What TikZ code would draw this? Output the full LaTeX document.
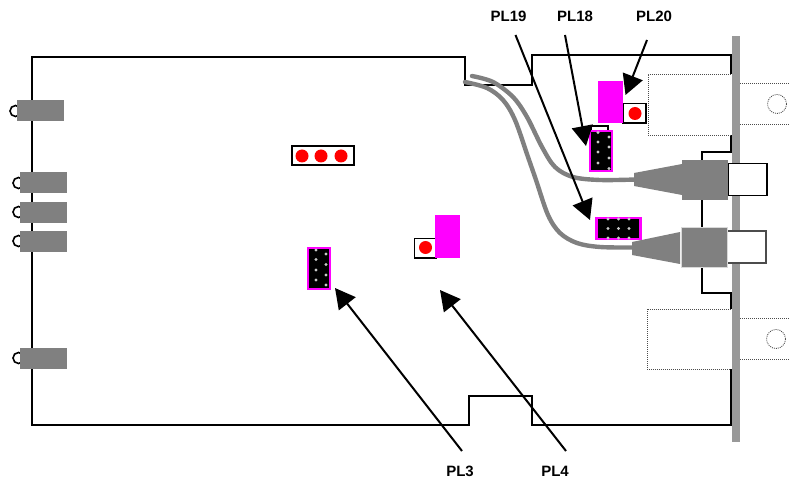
\documentclass[tikz,border=0pt]{standalone}
\usepackage{fontspec}
\setmainfont{Liberation Sans}
\usetikzlibrary{arrows.meta}
\definecolor{mag}{HTML}{FF00FF}
\definecolor{gr}{HTML}{808080}
\definecolor{panel}{HTML}{999999}
\tikzset{
  box/.style={rectangle,anchor=north west,inner sep=0pt,outer sep=0pt},
  board/.style={draw=black,line width=2pt,line join=miter},
  dot/.style={draw=black!70,line width=0.8pt,dash pattern=on 1pt off 1pt},
  grey/.style={box,fill=gr},
  magbox/.style={box,fill=mag},
  hdr/.style={box,fill=black,draw=mag,line width=2.2pt},
  socket/.style={box,fill=white,draw=black,line width=1.6pt},
  red dot/.style={circle,fill=red,inner sep=0pt,minimum size=13pt},
  pin/.style={circle,fill=black!22,inner sep=0pt,minimum size=3.4pt},
  cable/.style={draw=gr,line width=4.4pt,line cap=round,line join=round},
  call/.style={draw=black,line width=2pt,-{Triangle[length=20pt,width=21pt]}},
  lab/.style={font=\bfseries\fontsize{15}{17}\selectfont,inner sep=0pt},
  loop/.style={draw=black,line width=1.6pt,fill=white},
  hole/.style={draw=black!70,line width=0.8pt,dash pattern=on 1pt off 1pt}
}
\begin{document}
\begin{tikzpicture}[x=1pt,y=-1pt]
\useasboundingbox (0,0) rectangle (789,478);
% board outline
\draw[board] (731,74) -- (731,55) -- (532,55) -- (532,85.5) -- (465,85.5) -- (465,57) -- (32,57) -- (32,425) -- (469,425) -- (469,396) -- (532,396) -- (532,425) -- (731,425) -- (731,369);
\draw[board] (731,135) -- (731,152) -- (702,152) -- (702,162);
\draw[board] (702,198) -- (702,230);
\draw[board] (702,265) -- (702,293) -- (731,293) -- (731,309);
% dotted outlines
\draw[dot] (731,74) -- (648,74) -- (648,135) -- (731,135);
\draw[dot] (731,309) -- (647,309) -- (647,369) -- (731,369);
\draw[dot] (740,83) -- (789,83) (740,124) -- (789,124);
\draw[dot] (740,318) -- (789,318) (740,359) -- (789,359);
\draw[hole] (777,104) circle (9.5);
\draw[hole] (776,339) circle (9.5);
% front panel
\node[box,fill=panel,minimum width=8pt,minimum height=406pt] (panel) at (732,36) {};
% left connectors
\foreach \cx/\cy in {15.5/111,18.5/183,18.5/212,18.5/241,18.5/358}{
  \draw[loop] (\cx,\cy) circle (5.5);
}
\node[grey,minimum width=47pt,minimum height=21pt] (la) at (17,100) {};
\node[grey,minimum width=47pt,minimum height=21pt] (lb) at (20,172) {};
\node[grey,minimum width=47pt,minimum height=21pt] (lc) at (20,202) {};
\node[grey,minimum width=47pt,minimum height=21pt] (ld) at (20,231) {};
\node[grey,minimum width=47pt,minimum height=21pt] (le) at (20,347.5) {};
% right sockets
\node[socket,minimum width=39pt,minimum height=32pt] (s1) at (728,163.5) {};
\node[socket,draw=black!70,minimum width=39pt,minimum height=32pt] (s2) at (727,231) {};
% connector bodies
\node[grey,minimum width=46pt,minimum height=40pt] (c1) at (682,160) {};
\node[grey,draw=black!15,line width=0.6pt,minimum width=46pt,minimum height=40pt] (c2) at (681,227) {};
\coordinate (t1) at (636,179.5);
\coordinate (t2) at (634,247.5);
% cables
\coordinate (f1) at (472,76);
\coordinate (f2) at (465,82);
\draw[cable] plot[smooth,tension=0.55] coordinates {(f1) (493,82) (513,97) (527,117) (542,147) (555,167) (573,177) (600,180) (t1)};
\draw[cable] plot[smooth,tension=0.55] coordinates {(f2) (487,88) (503,100) (515,120) (528,157) (536,180) (548,215) (560,233) (577,243) (600,247) (t2)};
% tapers
\fill[gr] (634,173) -- (682,164) -- (682,195) -- (634,186) -- cycle;
\fill[gr] (632,242) -- (680,232) -- (680,264) -- (632,255) -- cycle;
% PL20
\node[socket,minimum width=23pt,minimum height=19.5pt] (j20) at (623,103.5) {};
\node[magbox,minimum width=25pt,minimum height=42pt] (m20) at (598,81) {};
\node[red dot] (r20) at (635,113.5) {};
% PL4
\node[socket,minimum width=22pt,minimum height=19.5pt] (j4) at (414.5,238.5) {};
\node[magbox,minimum width=25pt,minimum height=43pt] (m4) at (435,215) {};
\node[red dot] (r4) at (425.5,247.5) {};
% three-way link
\node[socket,line width=2pt,minimum width=62pt,minimum height=19pt] (j3) at (292,146.5) {};
\node[red dot] (r31) at (302,156) {};
\node[red dot] (r32) at (321,156) {};
\node[red dot] (r33) at (341,156) {};
% PL18
\draw[draw=black,line width=1.4pt] (591,130) -- (591,126) -- (608,126) -- (608,130);
\node[hdr,minimum width=22pt,minimum height=40pt] (h18) at (590,131) {};
\foreach \px/\py in {598/132.5,598/142,598/152,598/163,609/137,609/147,609/158,609/168.5}{
  \node[pin] at (\px,\py) {};
}
% PL19
\node[hdr,minimum width=44pt,minimum height=21pt] (h19) at (596.5,218) {};
\foreach \px in {608,618.5,629}{
  \foreach \py in {219,228.5,238}{
    \node[pin] at (\px,\py) {};
  }
}
% PL3
\node[hdr,minimum width=22pt,minimum height=41pt] (h3) at (308,248) {};
\foreach \px/\py in {316/250,316/259.5,316/270,316/280,326/254,326/264.5,326/275,326/285}{
  \node[pin] at (\px,\py) {};
}
% labels
\node[lab] (l19) at (508.5,16.5) {PL19};
\node[lab] (l18) at (575,16.5) {PL18};
\node[lab] (l20) at (654,16.5) {PL20};
\node[lab] (l3) at (460,471) {PL3};
\node[lab] (l4) at (555,471) {PL4};
% call-outs
\coordinate (a19) at (515.5,35);
\coordinate (b19) at (590,220);
\coordinate (a18) at (565,35);
\coordinate (b18) at (586,146);
\coordinate (a20) at (647,40);
\coordinate (b20) at (625.5,95);
\coordinate (a3) at (462,451);
\coordinate (b3) at (335,288);
\coordinate (a4) at (566,451);
\coordinate (b4) at (440,290);
\draw[call] (a19) -- (b19);
\draw[call] (a18) -- (b18);
\draw[call] (a20) -- (b20);
\draw[call] (a3) -- (b3);
\draw[call] (a4) -- (b4);
\end{tikzpicture}
\end{document}
